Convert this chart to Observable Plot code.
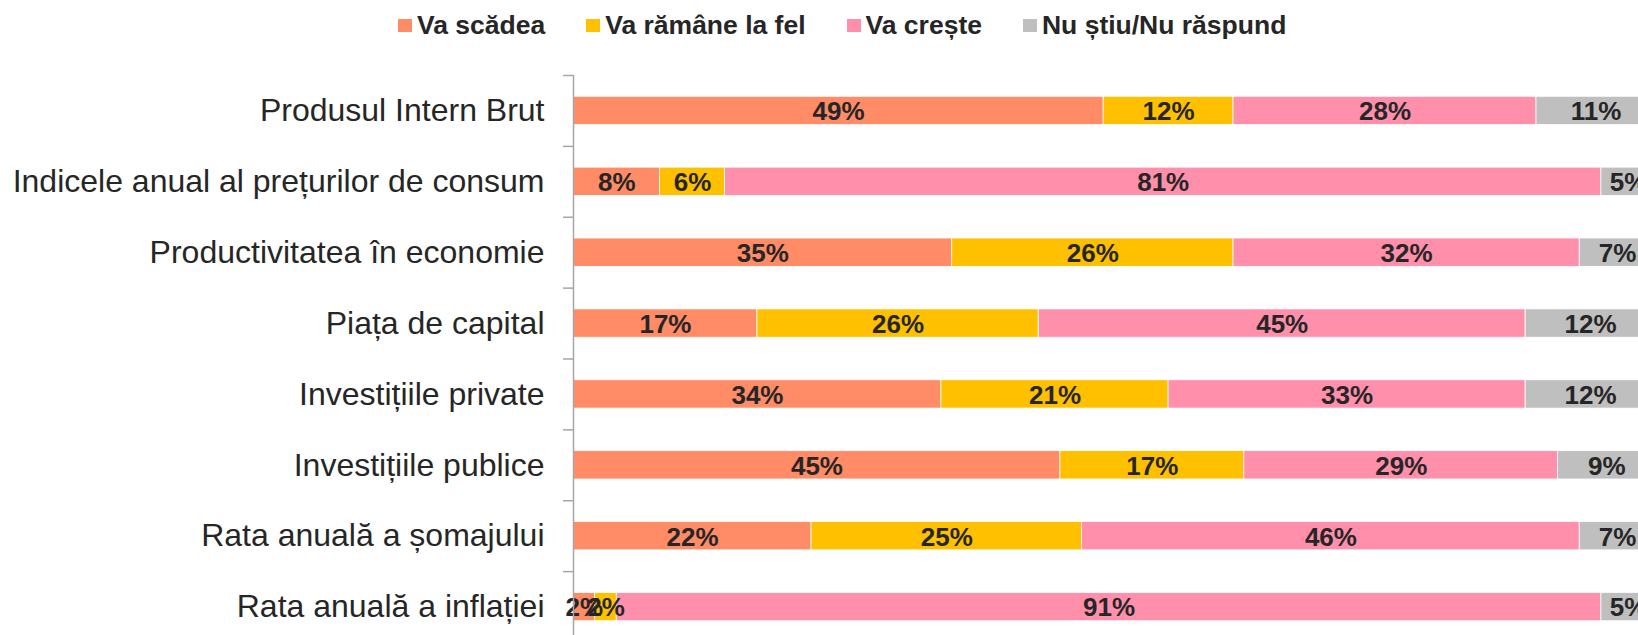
<!DOCTYPE html>
<html>
<head>
<meta charset="utf-8">
<script src="https://cdn.jsdelivr.net/npm/d3@7"></script>
<script src="https://cdn.jsdelivr.net/npm/@observablehq/plot@0.6"></script>
<style>
  html, body { margin: 0; padding: 0; background: #fff; overflow: hidden; }
  body { font-family: "Liberation Sans", Arial, sans-serif; color: #262626; }
  #legend { height: 50px; display: flex; align-items: center; padding-left: 398px; gap: 41px; }
  .item { display: flex; align-items: center; font-size: 26.5px; font-weight: bold; line-height: 1; white-space: nowrap; }
  .sw { width: 14px; height: 13px; margin-right: 5px; flex: none; }
  #chart { width: 1660px; }
  #chart svg { display: block; max-width: none !important; }
</style>
</head>
<body>
<div id="legend"></div>
<div id="chart"></div>
<script>
const categories = [
  "Produsul Intern Brut",
  "Indicele anual al prețurilor de consum",
  "Productivitatea în economie",
  "Piața de capital",
  "Investițiile private",
  "Investițiile publice",
  "Rata anuală a șomajului",
  "Rata anuală a inflației"
];
const seriesNames = ["Va scădea", "Va rămâne la fel", "Va crește", "Nu știu/Nu răspund"];
const seriesColors = ["#FF8B67", "#FFC000", "#FF8FAB", "#BFBFBF"];
const vaScadea  = [49, 8, 35, 17, 34, 45, 22, 2];
const vaRamane  = [12, 6, 26, 26, 21, 17, 25, 2];
const vaCreste  = [28, 81, 32, 45, 33, 29, 46, 91];
const nuStiu    = [11, 5, 7, 12, 12, 9, 7, 5];

const seriesValues = [vaScadea, vaRamane, vaCreste, nuStiu];
const data = [];
categories.forEach((c, i) => {
  seriesNames.forEach((s, j) => {
    data.push({category: c, series: s, value: seriesValues[j][i]});
  });
});

// legend
const legend = document.getElementById("legend");
seriesNames.forEach((s, j) => {
  const it = document.createElement("div");
  it.className = "item";
  const sw = document.createElement("span");
  sw.className = "sw";
  sw.style.background = seriesColors[j];
  const tx = document.createElement("span");
  tx.textContent = s;
  it.appendChild(sw); it.appendChild(tx);
  legend.appendChild(it);
});

const marginTop = 25;
const height = 592;
const step = (height - marginTop) / categories.length;

const chart = Plot.plot({
  width: 1660,
  height: height,
  marginLeft: 573,
  marginRight: 5,
  marginTop: marginTop,
  marginBottom: 0,
  style: {fontFamily: "'Liberation Sans', Arial, sans-serif", color: "#262626", background: "white", maxWidth: "none"},
  x: {domain: [0, 100], axis: null},
  y: {domain: categories, paddingInner: 0.6, paddingOuter: 0.3, round: false, axis: null},
  color: {domain: seriesNames, range: seriesColors},
  marks: [
    Plot.barX(data, Plot.stackX({
      x: "value", y: "category", fill: "series", z: "series", order: seriesNames,
      stroke: "white", strokeWidth: 0.8
    })),
    Plot.text(data, Plot.stackX({
      x: "value", y: "category", z: "series", order: seriesNames,
      text: d => d.value + "%",
      fontSize: 26, fontWeight: "bold", fill: "#262626", dy: 1
    })),
    Plot.axisY({tickSize: 0, tickPadding: 29, fontSize: 32, fill: "#262626", label: null}),
    Plot.axisY({tickSize: 10, tickFormat: () => "", dy: -step / 2, stroke: "#A6A6A6", strokeWidth: 1.5, label: null}),
    Plot.ruleX([0], {stroke: "#A6A6A6", strokeWidth: 1.5})
  ]
});
document.getElementById("chart").appendChild(chart);
</script>
</body>
</html>
